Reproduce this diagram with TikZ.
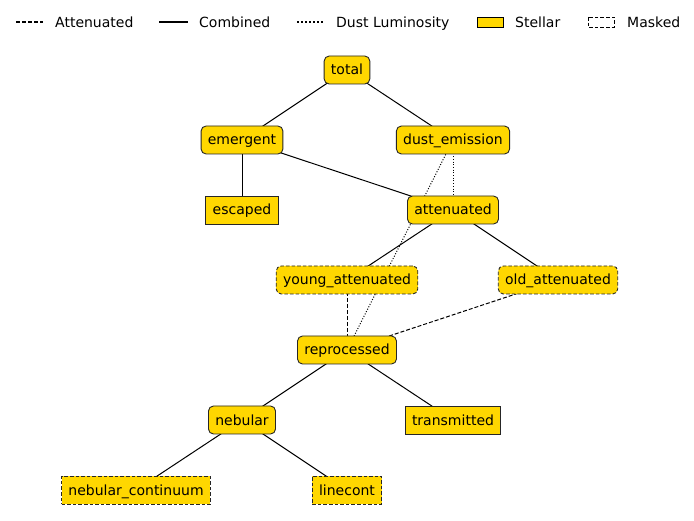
\documentclass[tikz,border=0pt]{standalone}
\usepackage{fontspec}
\setmainfont{DejaVu Sans}
\usetikzlibrary{backgrounds}
\definecolor{gold}{HTML}{FFD700}
\begin{document}
\begin{tikzpicture}[x=1pt,y=-1pt,
  basebox/.style={draw=black!85, fill=gold, line width=0.9pt, font=\fontsize{14}{16}\selectfont,
    inner xsep=6.8pt, inner ysep=0pt, minimum height=28pt, text height=13pt, text depth=3pt},
  comb/.style={basebox, rounded corners=5pt},
  stel/.style={basebox},
  maskd/.style={dash pattern=on 3.6pt off 2pt},
  edge/.style={line width=1pt, black},
  attn/.style={edge, dash pattern=on 4pt off 2pt},
  dust/.style={edge, dash pattern=on 1pt off 1.7pt},
  legtxt/.style={anchor=west, inner sep=0pt, font=\fontsize{14}{16}\selectfont, text height=13pt, text depth=3pt}
]
\useasboundingbox (0,0) rectangle (694,521);
% legend
\coordinate (la1) at (16,22); \coordinate (la2) at (43,22);
\draw[attn, line width=1.5pt] (la1) -- (la2);
\node[legtxt] (lta) at (55,23) {Attenuated};
\coordinate (lc1) at (159,22); \coordinate (lc2) at (188,22);
\draw[edge, line width=1.5pt] (lc1) -- (lc2);
\node[legtxt] (ltc) at (199,23) {Combined};
\coordinate (ld1) at (297,22); \coordinate (ld2) at (324,22);
\draw[edge, line width=1.5pt, dash pattern=on 1.5pt off 2.5pt] (ld1) -- (ld2);
\node[legtxt] (ltd) at (336,23) {Dust Luminosity};
\draw[fill=gold, draw=black, line width=0.9pt] (477,17) rectangle (503,27);
\node[legtxt] (lts) at (515,23) {Stellar};
\draw[fill=white, draw=black, line width=0.9pt, maskd] (588,17) rectangle (614,27);
\node[legtxt] (ltm) at (627,23) {Masked};
% nodes
\node[comb] (total) at (347,70) {total};
\node[comb] (emergent) at (242,140) {emergent};
\node[comb] (dust) at (453,140) {dust\_emission};
\node[stel] (escaped) at (242,210) {escaped};
\node[comb] (att) at (453,210) {attenuated};
\node[comb, maskd] (young) at (347,280) {young\_attenuated};
\node[comb, maskd] (old) at (558,280) {old\_attenuated};
\node[comb] (repro) at (347,350) {reprocessed};
\node[comb] (neb) at (242,420) {nebular};
\node[stel] (trans) at (453,420) {transmitted};
\node[stel, maskd] (nebc) at (136,490) {nebular\_continuum};
\node[stel, maskd] (line) at (347,490) {linecont};
% edges
\begin{pgfonlayer}{background}
\draw[edge] (total.center) -- (emergent.center);
\draw[edge] (total.center) -- (dust.center);
\draw[edge] (emergent.center) -- (escaped.center);
\draw[edge] (emergent.center) -- (att.center);
\draw[dust] (dust.center) -- (att.center);
\draw[dust] (dust.center) -- (repro.center);
\draw[edge] (att.center) -- (young.center);
\draw[edge] (att.center) -- (old.center);
\draw[attn] (young.center) -- (repro.center);
\draw[attn] (old.center) -- (repro.center);
\draw[edge] (repro.center) -- (neb.center);
\draw[edge] (repro.center) -- (trans.center);
\draw[edge] (neb.center) -- (nebc.center);
\draw[edge] (neb.center) -- (line.center);
\end{pgfonlayer}
\end{tikzpicture}
\end{document}
